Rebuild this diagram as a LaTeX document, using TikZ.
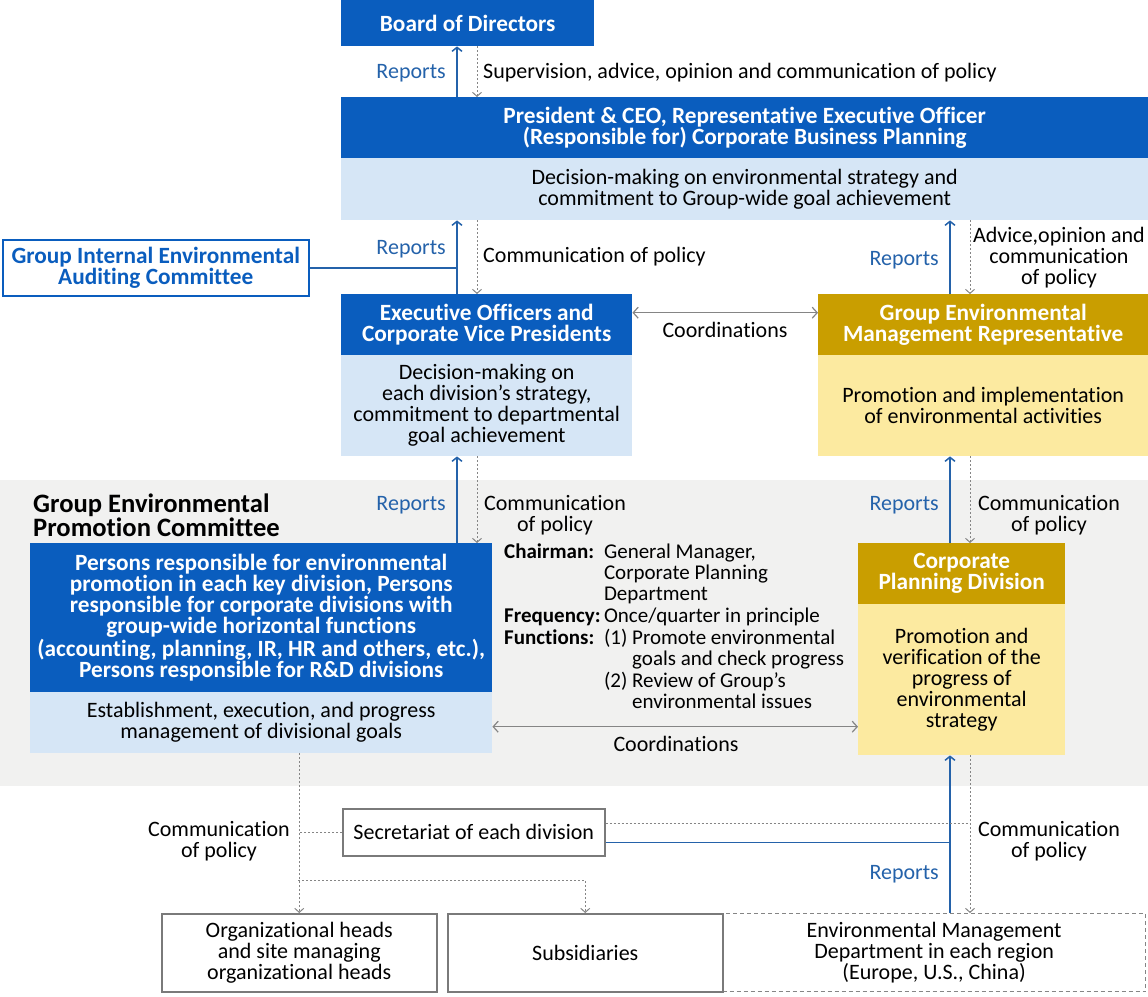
\documentclass[tikz,border=0pt]{standalone}
\usepackage{fontspec}
\setmainfont{Carlito}[Ligatures=NoCommon]
\usetikzlibrary{arrows.meta}
\definecolor{deepblue}{HTML}{0A5DBE}
\definecolor{paleblue}{HTML}{D6E6F6}
\definecolor{gold}{HTML}{C99E00}
\definecolor{paleyellow}{HTML}{FCEAA0}
\definecolor{bandgray}{HTML}{F1F1F0}
\definecolor{repblue}{HTML}{2462AA}
\definecolor{linegray}{HTML}{858585}
\definecolor{boxgray}{HTML}{7A7A7A}
\newcommand{\headfont}{\fontsize{23.3}{21}\selectfont\bfseries}
\tikzset{
  box/.style={anchor=north west,inner sep=0pt,align=center},
  bluehead/.style={box,fill=deepblue,text=white,font=\headfont},
  bluebody/.style={box,fill=paleblue},
  goldhead/.style={box,fill=gold,text=white,font=\headfont},
  goldbody/.style={box,fill=paleyellow},
  plainbox/.style={box,draw=boxgray,line width=1.5pt,fill=white},
  lbl/.style={inner sep=0pt,align=center},
  replbl/.style={lbl,text=repblue,anchor=east},
  report/.style={draw=repblue,line width=1.5pt,-{Straight Barb[length=4pt,width=10pt]}},
  feed/.style={draw=repblue,line width=1.5pt},
  policy/.style={draw=linegray,line width=1pt,dash pattern=on 2pt off 2pt,-{Straight Barb[length=4pt,width=9pt]}},
  policyline/.style={draw=linegray,line width=1pt,dash pattern=on 2pt off 2pt},
  coordarrow/.style={draw=linegray,line width=1.2pt,{Straight Barb[length=5pt,width=11pt]}-{Straight Barb[length=5pt,width=11pt]}}
}
\begin{document}
\fontsize{22}{21}\selectfont
\begin{tikzpicture}[x=1pt,y=-1pt]
\useasboundingbox (0,0) rectangle (1148,996);
% committee band
\fill[bandgray] (0,480) rectangle (1148,786);
% columns of the report lines
\coordinate (lup) at (457,0);
\coordinate (ldn) at (477,0);
\coordinate (rup) at (950,0);
\coordinate (rdn) at (970,0);
%
\node[bluehead,minimum width=253pt,minimum height=46pt] (board) at (341,0) {Board of Directors};
\node[bluehead,minimum width=807pt,minimum height=61pt] (ceohead) at (341,97)
  {President \& CEO, Representative Executive Officer\\(Responsible for) Corporate Business Planning};
\node[bluebody,minimum width=807pt,minimum height=62pt] (ceobody) at (341,158)
  {Decision-making on environmental strategy and\\commitment to Group-wide goal achievement};
\node[box,draw=deepblue,line width=1.5pt,text=deepblue,font=\headfont,minimum width=306pt,minimum height=56pt] (audit) at (2,239)
  {Group Internal Environmental\\Auditing Committee};
%
\node[bluehead,minimum width=291pt,minimum height=61pt] (exechead) at (341,294)
  {Executive Officers and\\Corporate Vice Presidents};
\node[bluebody,minimum width=291pt,minimum height=101pt] (execbody) at (341,355)
  {Decision-making on\\each division's strategy,\\commitment to departmental\\goal achievement};
\node[goldhead,minimum width=330pt,minimum height=61pt] (gemrhead) at (818,294)
  {Group Environmental\\Management Representative};
\node[goldbody,minimum width=330pt,minimum height=101pt] (gemrbody) at (818,355)
  {Promotion and implementation\\of environmental activities};
%
\node[lbl,anchor=west,align=left,font=\fontsize{26.6}{24}\selectfont\bfseries] (gepctitle) at (33,515)
  {Group Environmental\\Promotion Committee};
\node[bluehead,minimum width=462pt,minimum height=149pt] (gepchead) at (30,543)
  {Persons responsible for environmental\\promotion in each key division, Persons\\responsible for corporate divisions with\\group-wide horizontal functions\\(accounting, planning, IR, HR and others, etc.),\\Persons responsible for R\&D divisions};
\node[bluebody,minimum width=462pt,minimum height=61pt] (gepcbody) at (30,692)
  {Establishment, execution, and progress\\management of divisional goals};
\node[goldhead,minimum width=207pt,minimum height=61pt] (cpdhead) at (858,543)
  {Corporate\\Planning Division};
\node[goldbody,minimum width=207pt,minimum height=151pt] (cpdbody) at (858,604)
  {Promotion and\\verification of the\\progress of\\environmental\\strategy};
\node[lbl,anchor=north west,align=left,font=\fontsize{21}{20.5}\selectfont] (chair) at (504,544) {%
  \begin{tabular}{@{}l@{\,}l@{}}
  \textbf{Chairman:} & General Manager,\\
   & Corporate Planning\\
   & Department\\[2pt]
  \textbf{Frequency:} & Once/quarter in principle\\
  \textbf{Functions:} & (1) Promote environmental\\
   & \phantom{(1) }goals and check progress\\
   & (2) Review of Group's\\
   & \phantom{(2) }environmental issues
  \end{tabular}};
%
\node[plainbox,minimum width=262pt,minimum height=47pt] (secr) at (342,808) {Secretariat of each division};
\node[box,draw=linegray,line width=1.2pt,dash pattern=on 4pt off 3pt,minimum width=423pt,minimum height=78pt] (emd) at (722,913)
  {Environmental Management\\Department in each region\\(Europe, U.S., China)};
\node[plainbox,minimum width=275pt,minimum height=78pt] (orgs) at (161,913)
  {Organizational heads\\and site managing\\organizational heads};
\node[plainbox,minimum width=275pt,minimum height=78pt] (subs) at (447,913) {Subsidiaries};
%
\node[replbl] (rep1) at (446,73) {Reports};
\node[lbl,anchor=west] (sup) at (483,73) {Supervision, advice, opinion and communication of policy};
\node[replbl] (rep2) at (446,249) {Reports};
\node[lbl,anchor=west] (pol2) at (483,257) {Communication of policy};
\node[replbl] (rep3) at (939,260) {Reports};
\node[lbl] (adv) at (1059,258) {Advice,opinion and\\communication\\of policy};
\node[lbl] (coo1) at (725,330) {Coordinations};
\node[replbl] (rep4) at (446,505) {Reports};
\node[lbl] (pol4) at (555,515) {Communication\\of policy};
\node[replbl] (rep5) at (939,505) {Reports};
\node[lbl] (pol5) at (1049,515) {Communication\\of policy};
\node[lbl] (coo2) at (676,744) {Coordinations};
\node[lbl] (pol6) at (219,841) {Communication\\of policy};
\node[lbl] (pol7) at (1049,841) {Communication\\of policy};
\node[replbl] (rep6) at (939,874) {Reports};
%
\draw[report] (lup |- ceohead.north) -- (lup |- board.south);
\draw[policy] (ldn |- board.south) -- (ldn |- ceohead.north);
\draw[report] (lup |- exechead.north) -- (lup |- ceobody.south);
\draw[policy] (ldn |- ceobody.south) -- (ldn |- exechead.north);
\draw[feed] (audit.east) -- (lup |- audit.east);
\draw[report] (rup |- gemrhead.north) -- (rup |- ceobody.south);
\draw[policy] (rdn |- ceobody.south) -- (rdn |- gemrhead.north);
\coordinate (coa) at ([yshift=12pt]exechead.east);
\draw[coordarrow] (coa) -- (coa -| gemrhead.west);
%
\draw[report] (lup |- gepchead.north) -- (lup |- execbody.south);
\draw[policy] (ldn |- execbody.south) -- (ldn |- gepchead.north);
\draw[report] (rup |- cpdhead.north) -- (rup |- gemrbody.south);
\draw[policy] (rdn |- gemrbody.south) -- (rdn |- cpdhead.north);
\coordinate (cob) at ([yshift=-4pt]gepcbody.east);
\draw[coordarrow] (cob) -- (cob -| cpdbody.west);
%
\draw[report] (rup |- emd.north) -- (rup |- cpdbody.south);
\coordinate (secfeed) at ([yshift=-10pt]secr.east);
\draw[feed] (secfeed) -- (rup |- secfeed);
\draw[policy] (rdn |- cpdbody.south) -- (rdn |- emd.north);
\coordinate (secpol) at ([yshift=9pt]secr.east);
\draw[policyline] (secpol) -- (rdn |- secpol);
\draw[policy] (orgs.north |- gepcbody.south) -- (orgs.north);
\draw[policyline] (secr.west) -- (orgs.north |- secr.west);
\coordinate (split) at (298,880);
\draw[policy] (split) -| (subs.north);
\end{tikzpicture}
\end{document}
